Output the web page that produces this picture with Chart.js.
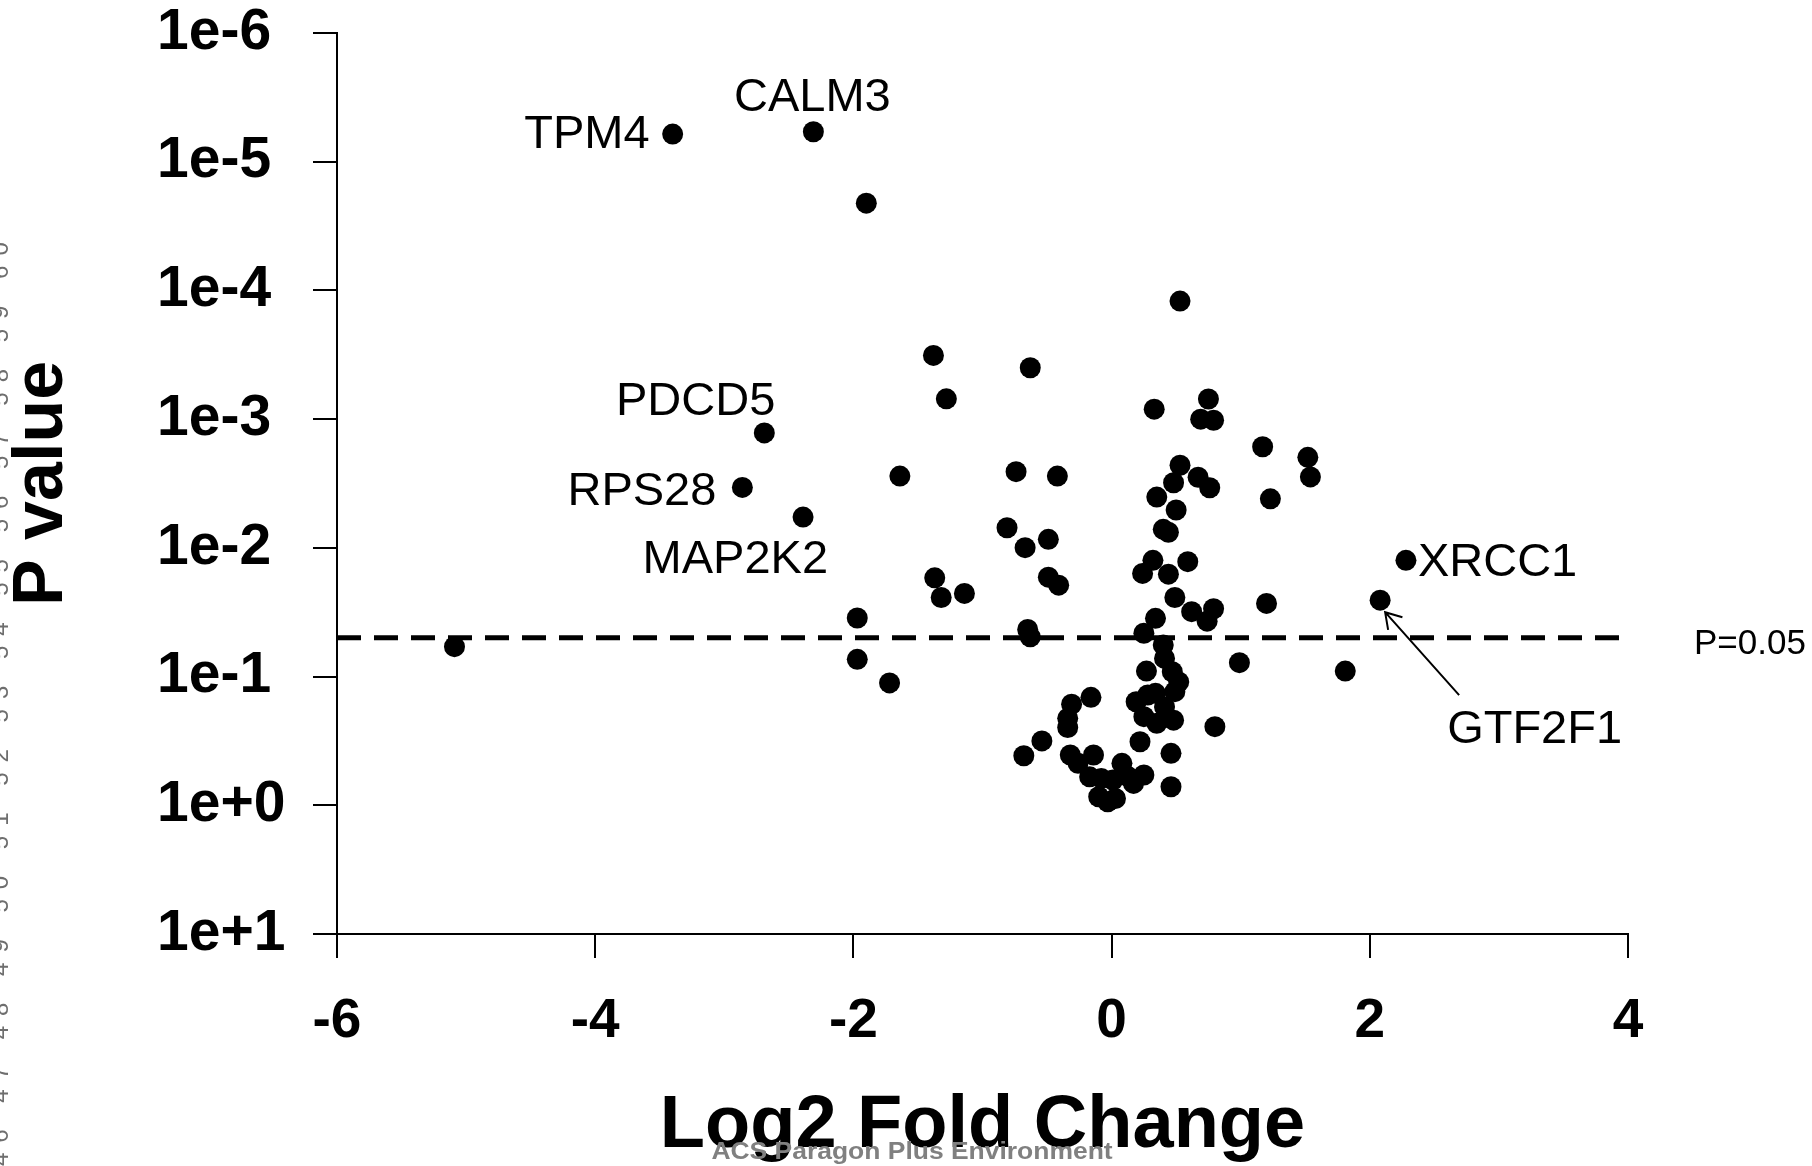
<!DOCTYPE html>
<html>
<head>
<meta charset="utf-8">
<title>Volcano plot</title>
<script src="https://cdn.jsdelivr.net/npm/chart.js@4.4.1/dist/chart.umd.min.js"></script>
<style>
  html, body { margin: 0; padding: 0; background: #fff; }
  #wrap { width: 1812px; height: 1166px; position: relative; }
</style>
</head>
<body>
<div id="wrap"><canvas id="volcano" width="1812" height="1166"></canvas></div>
<script>
// ==============================
// DATA
// ==============================
// first seven points are the labelled genes, in the order of geneNames
const geneNames = ["TPM4", "CALM3", "PDCD5", "RPS28", "MAP2K2", "XRCC1", "GTF2F1"];

const log2FoldChange = [
    -3.40, -2.31, -2.69, -2.86, -2.39, 2.28, 2.08,
    -1.90, -1.38, -1.28, -5.09, -1.97, -1.97, -1.72, -1.64, -1.37, -1.32, -1.14,
    -0.74, -0.42, -0.63, -0.81, -0.67, -0.49, -0.49, -0.41, -0.65, -0.63,
    0.53, 0.33, 0.75, 0.69, 0.79, 1.17, 1.52, 1.54, 1.23, 0.53, 0.48, 0.67, 0.76, 0.35,
    0.50, 0.40, 0.44, 0.32, 0.24, 0.44, 0.59, 0.49, 0.62, 0.79, 0.74, 1.20, 0.34, 0.25,
    1.81, 0.99, 0.40, 0.41, 0.27, 0.47, 0.52, 0.49, 0.34, 0.19, 0.28, 0.25, 0.35, 0.48, 0.41, 0.80,
    -0.16, -0.31, -0.34, -0.34, -0.54, -0.68, 0.22, 0.46, 0.46, -0.32, -0.14,
    -0.26, -0.17, -0.08, 0.08, 0.13, 0.25, 0.17, -0.10, -0.03, 0.03, 0.01
];

const pValues = [
    6.1e-6, 5.85e-6, 1.28e-3, 3.39e-3, 5.77e-3, 0.0125, 0.0255,
    2.1e-5, 3.2e-4, 6.95e-4, 0.0586, 0.0351, 0.0735, 0.112, 2.77e-3, 0.0171, 0.0243, 0.0226,
    2.56e-3, 2.77e-3, 3.99e-4, 6.98e-3, 9.97e-3, 8.59e-3, 0.0169, 0.0195, 0.043, 0.0491,
    1.21e-4, 8.36e-4, 6.98e-4, 1.0e-3, 1.02e-3, 1.64e-3, 1.98e-3, 2.81e-3, 4.16e-3, 2.28e-3, 3.12e-3, 2.83e-3, 3.41e-3, 4.03e-3,
    5.08e-3, 7.18e-3, 7.57e-3, 0.0125, 0.0158, 0.016, 0.0128, 0.0243, 0.0313, 0.0297, 0.0371, 0.027, 0.0353, 0.0461,
    0.0906, 0.078, 0.0569, 0.0723, 0.0906, 0.0918, 0.110, 0.131, 0.135, 0.157, 0.139, 0.205, 0.231, 0.218, 0.172, 0.245,
    0.145, 0.164, 0.211, 0.249, 0.316, 0.412, 0.321, 0.395, 0.718, 0.407, 0.407,
    0.472, 0.601, 0.618, 0.472, 0.601, 0.582, 0.676, 0.859, 0.94, 0.885, 0.637
];

const cutoffP = 0.05;
const xTicks = [-6, -4, -2, 0, 2, 4];
const yTicks = [1e-6, 1e-5, 1e-4, 1e-3, 1e-2, 1e-1, 1, 10];

const sideText = "46 47 48 49 50 51 52 53 54 55 56 57 58 59 60";
const watermark = "ACS Paragon Plus Environment";

// ==============================
// LABEL PLACEMENT (pixels from the dot)
// ==============================
const labelPlacement = {
    TPM4:   { dx: -23, dy: 14, align: "right" },
    CALM3:  { dx: -1, dy: -21, align: "center" },
    PDCD5:  { dx: 11, dy: -18, align: "right" },
    RPS28:  { dx: -26, dy: 18, align: "right" },
    MAP2K2: { dx: 25, dy: 56, align: "right" },
    XRCC1:  { dx: 12, dy: 16, align: "left" },
    GTF2F1: { dx: 67, dy: 143, align: "left", arrow: { x0: 79, y0: 95, x1: 5, y1: 12 } }
};

const FONT = "'Liberation Sans', Arial, Helvetica, sans-serif";
Chart.defaults.font.family = FONT;
Chart.defaults.color = "#000";

// ==============================
// ANNOTATIONS PLUGIN
// ==============================
const annotations = {
    id: "annotations",
    afterDatasetsDraw(chart) {
        const ctx = chart.ctx;
        const pts = chart.getDatasetMeta(0).data;
        ctx.save();
        ctx.fillStyle = "#000";
        ctx.strokeStyle = "#000";
        ctx.font = "47px " + FONT;
        ctx.textBaseline = "alphabetic";
        geneNames.forEach((name, i) => {
            const p = pts[i];
            const pl = labelPlacement[name];
            ctx.textAlign = pl.align;
            ctx.fillText(name, p.x + pl.dx, p.y + pl.dy);
            if (pl.arrow) {
                const a = pl.arrow;
                const tx = p.x + a.x1, ty = p.y + a.y1;
                const fx = p.x + a.x0, fy = p.y + a.y0;
                const ang = Math.atan2(fy - ty, fx - tx);
                const head = 18, spread = 0.56;
                ctx.lineWidth = 2;
                ctx.beginPath();
                ctx.moveTo(fx, fy);
                ctx.lineTo(tx, ty);
                ctx.moveTo(tx + head * Math.cos(ang - spread), ty + head * Math.sin(ang - spread));
                ctx.lineTo(tx, ty);
                ctx.lineTo(tx + head * Math.cos(ang + spread), ty + head * Math.sin(ang + spread));
                ctx.stroke();
            }
        });
        // cut-off label, right of the plot
        const yPix = chart.scales.y.getPixelForValue(cutoffP);
        ctx.font = "35px " + FONT;
        ctx.textAlign = "left";
        ctx.fillText("P=" + cutoffP, chart.chartArea.right + 66, yPix + 16);
        ctx.restore();
    },
    afterDraw(chart) {
        const ctx = chart.ctx;
        // line numbers of the manuscript page, cut by the left edge
        ctx.save();
        ctx.translate(8, 1166);
        ctx.rotate(-Math.PI / 2);
        ctx.font = "24px " + FONT;
        ctx.letterSpacing = "10px";
        ctx.fillStyle = "#6e6e6e";
        ctx.textAlign = "left";
        ctx.textBaseline = "alphabetic";
        ctx.fillText(sideText, 0, 0);
        ctx.restore();
        // journal watermark over the x title
        ctx.save();
        ctx.translate(912, 1159);
        ctx.scale(1.15, 1);
        ctx.font = "bold 23px " + FONT;
        ctx.fillStyle = "#808080";
        ctx.textAlign = "center";
        ctx.textBaseline = "alphabetic";
        ctx.fillText(watermark, 0, 0);
        ctx.restore();
    }
};

// ==============================
// CHART
// ==============================
const points = log2FoldChange.map((x, i) => ({ x: x, y: pValues[i] }));

new Chart(document.getElementById("volcano"), {
    type: "scatter",
    data: {
        datasets: [
            {
                data: points,
                pointRadius: 10.5,
                pointHoverRadius: 10.5,
                backgroundColor: "#000",
                borderWidth: 0
            },
            {
                data: [{ x: xTicks[0], y: cutoffP }, { x: xTicks[xTicks.length - 1], y: cutoffP }],
                showLine: true,
                borderColor: "#000",
                borderWidth: 5,
                borderDash: [24, 13],
                pointRadius: 0
            }
        ]
    },
    options: {
        responsive: false,
        animation: false,
        devicePixelRatio: 1,
        layout: { padding: { left: 157, top: 33, right: 184, bottom: 0 } },
        plugins: { legend: { display: false }, tooltip: { enabled: false } },
        scales: {
            x: {
                type: "linear",
                min: -6,
                max: 4,
                afterBuildTicks: s => { s.ticks = xTicks.map(v => ({ value: v })); },
                afterFit: s => { s.height = 232; },
                border: { display: true, color: "#000", width: 2 },
                grid: { drawOnChartArea: false, drawTicks: true, tickLength: 24, color: "#000", lineWidth: 2 },
                ticks: {
                    autoSkip: false,
                    maxRotation: 0,
                    padding: 36,
                    font: { size: 55, weight: "bold", lineHeight: 1 },
                    callback: v => String(v)
                },
                title: {
                    display: true,
                    text: "Log2 Fold Change",
                    font: { size: 74, weight: "bold", lineHeight: 1 },
                    padding: { top: 0, bottom: 2 }
                }
            },
            y: {
                type: "logarithmic",
                reverse: true,
                min: 1e-6,
                max: 10,
                afterBuildTicks: s => { s.ticks = yTicks.map(v => ({ value: v })); },
                afterFit: s => { s.width = 180; },
                border: { display: true, color: "#000", width: 2 },
                grid: { drawOnChartArea: false, drawTicks: true, tickLength: 24, color: "#000", lineWidth: 2 },
                ticks: {
                    autoSkip: false,
                    crossAlign: "far",
                    padding: 0,
                    font: { size: 57, weight: "bold", lineHeight: 1 },
                    callback: v => Number(v).toExponential(0)
                },
                title: {
                    display: true,
                    text: "P value",
                    font: { size: 70, weight: "bold", lineHeight: 1 },
                    // pulls the title out to the page edge, left of the tick labels
                    padding: { top: -149, bottom: 0 }
                }
            }
        }
    },
    plugins: [annotations]
});
</script>
</body>
</html>
